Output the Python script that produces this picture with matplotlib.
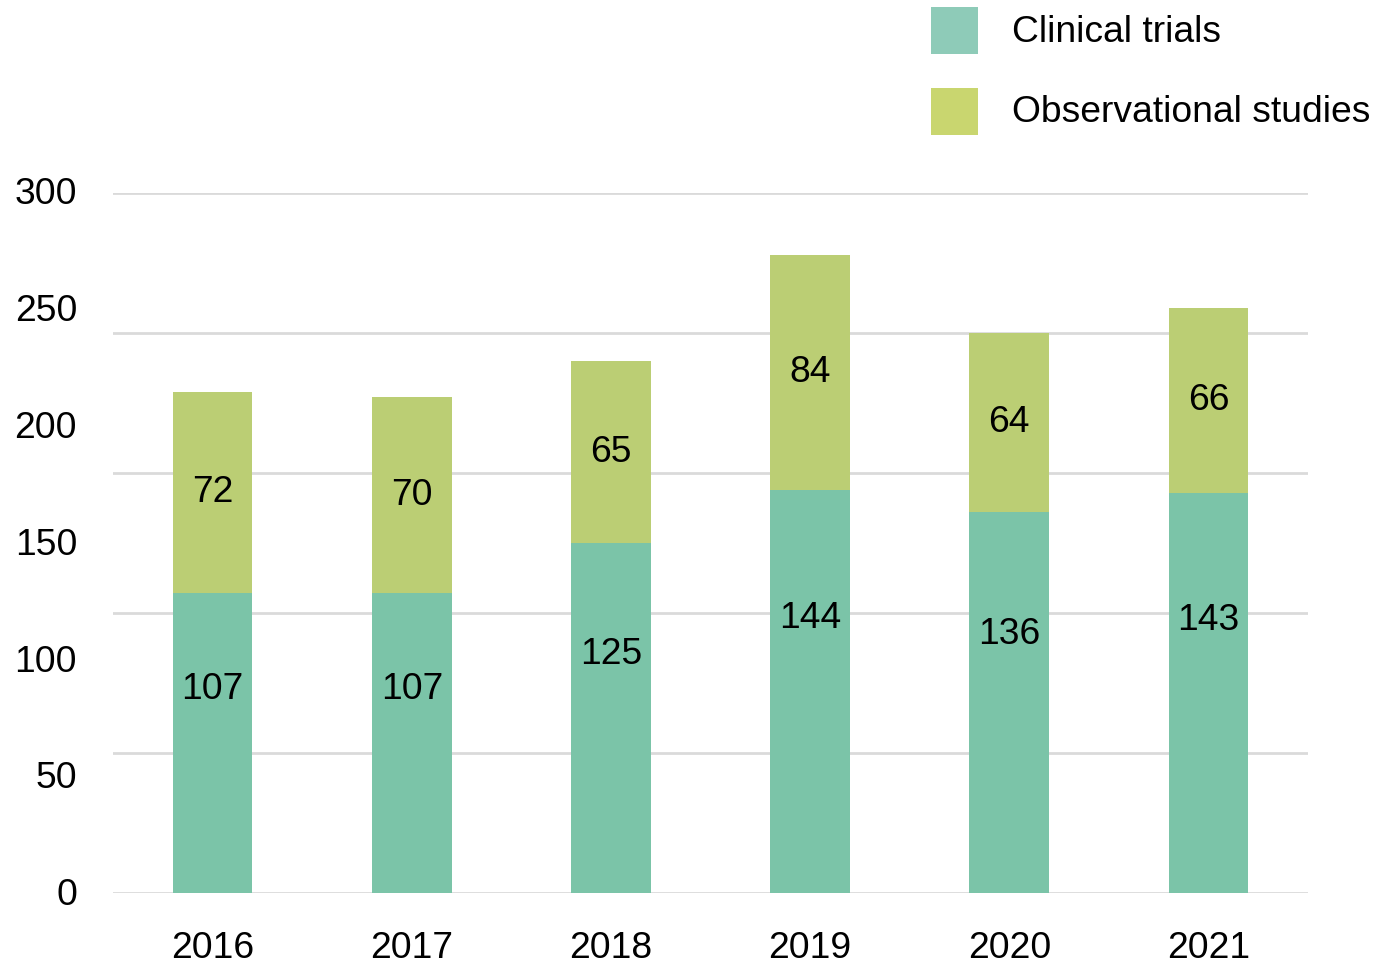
import numpy as np
import matplotlib.pyplot as plt
from matplotlib.patches import Rectangle

plt.rcParams['font.family'] = ['Liberation Sans', 'DejaVu Sans']

years = ['2016', '2017', '2018', '2019', '2020', '2021']
clinical = [107, 107, 125, 144, 136, 143]
observational = [72, 70, 65, 84, 64, 66]
grid_vals = [0, 50, 100, 150, 200, 250]
axis_labels = [0, 50, 100, 150, 200, 250, 300]

c_bar = '#7bc4a8'
o_bar = '#bbce74'
c_leg = '#8ecbb8'
o_leg = '#c9d66f'
grid_c = '#dadada'
fs = 26.8

W, H = 1373, 969
fig = plt.figure(figsize=(W / 100, H / 100), dpi=100)
ax = fig.add_axes([113 / W, (H - 893) / H, (1308 - 113) / W, (893 - 193) / H])

x = np.arange(len(years))
clinical = np.array(clinical)
observational = np.array(observational)

for g in grid_vals:
    ax.axhline(g, color=grid_c, lw=2, zorder=0)

ax.bar(x, clinical, width=0.4, color=c_bar, zorder=2)
ax.bar(x, observational, width=0.4, bottom=clinical, color=o_bar, zorder=2)

for xi, c, o in zip(x, clinical, observational):
    ax.text(xi, c * 0.68, str(c), ha='center', va='center', fontsize=fs, zorder=3)
    ax.text(xi, c + o / 2, str(o), ha='center', va='center', fontsize=fs, zorder=3)

ax.set_xlim(-0.5, 5.5)
ax.set_ylim(0, 250)
ax.set_xticks(x)
ax.set_xticklabels(years, fontsize=fs)
ax.tick_params(axis='x', length=0, pad=27)
ax.set_yticks([])
for s in ax.spines.values():
    s.set_visible(False)

# y labels sit a little off the gridlines
for v in axis_labels:
    ax.text(-0.5 - 36 / 199.2, v * 0.835 - 1, str(v), ha='right', va='center',
            fontsize=fs, clip_on=False)

# legend at the top right
for i, (lab, col) in enumerate([('Clinical trials', c_leg),
                                ('Observational studies', o_leg)]):
    top = 7 + i * 81
    fig.add_artist(Rectangle((931 / W, (H - top - 47) / H), 47 / W, 47 / H,
                             transform=fig.transFigure, color=col, lw=0))
    fig.text(1012 / W, (H - top - 25) / H, lab, ha='left', va='center',
             fontsize=fs)

fig.savefig('out.png', dpi=100)
